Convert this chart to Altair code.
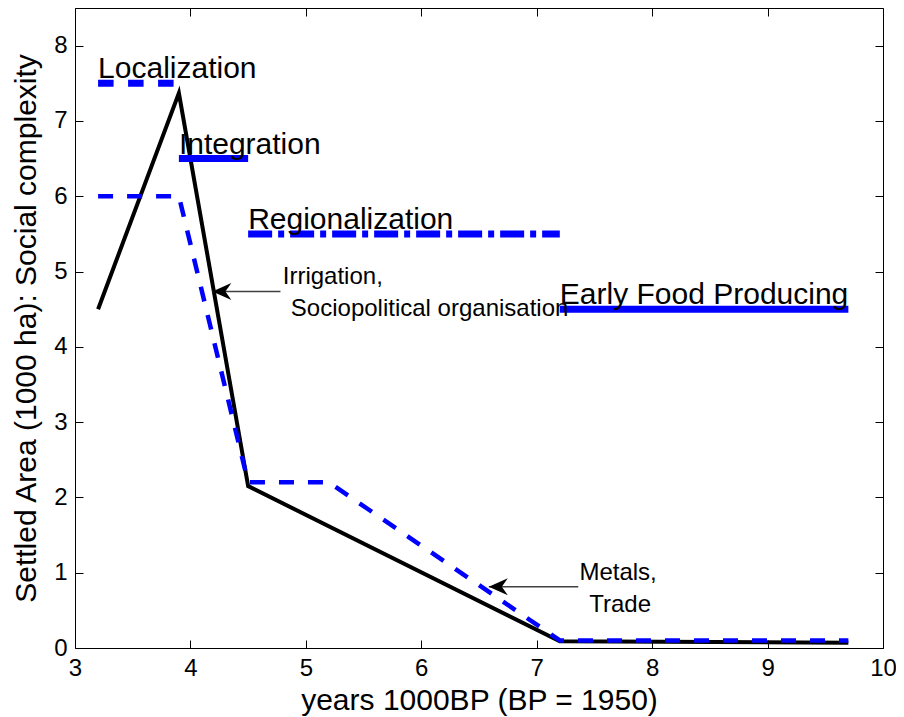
import altair as alt
import pandas as pd

# ---- data ----
years_black = [3.2, 3.9, 4.5, 7.2, 9.7]
area_black = [4.5, 7.37, 2.15, 0.09, 0.07]

years_blue = [3.2, 3.9, 4.5, 5.2, 7.2, 9.7]
complexity_blue = [6.0, 6.0, 2.2, 2.2, 0.1, 0.1]

phase_names = ["Localization", "Integration", "Regionalization", "Early Food Producing"]
phase_start = [3.2, 3.9, 4.5, 7.2]
phase_end = [3.9, 4.5, 7.2, 9.7]
phase_level = [7.5, 6.5, 5.5, 4.5]

note_text = ["Irrigation,", "Sociopolitical organisation", "Metals,", "Trade"]
note_x = [4.80, 4.87, 7.37, 7.455]
note_y = [4.83, 4.41, 0.90, 0.48]

arrow_tail_x = [4.78, 7.36]
arrow_head_x = [4.19, 6.585]
arrow_y = [4.735, 0.812]

x_ticks = [3, 4, 5, 6, 7, 8, 9, 10]
y_ticks = [0, 1, 2, 3, 4, 5, 6, 7, 8]

FONT = "Liberation Sans"
BLUE = "#0000ff"

black_df = pd.DataFrame({"x": years_black, "y": area_black})
blue_df = pd.DataFrame({"x": years_blue, "y": complexity_blue})
phase_df = pd.DataFrame({"phase": phase_names, "x": phase_start, "x2": phase_end, "y": phase_level})
note_df = pd.DataFrame({"text": note_text, "x": note_x, "y": note_y})
arrow_df = pd.DataFrame({"x": arrow_tail_x, "x2": arrow_head_x, "y": arrow_y})

xs = alt.Scale(domain=[3, 10], nice=False, zero=False)
ys = alt.Scale(domain=[0, 8.5], nice=False, zero=False)

main_x_axis = alt.Axis(
    values=x_ticks, orient="bottom", offset=-8, tickSize=8, tickColor="black",
    domain=False, grid=False, labelFontSize=24, labelColor="black", labelPadding=8,
    labelFlush=False, labelFont=FONT, title="years 1000BP (BP = 1950)",
    titleFontSize=30, titleFontWeight="normal", titleColor="black", titleFont=FONT,
    titlePadding=5,
)
main_y_axis = alt.Axis(
    values=y_ticks, orient="left", offset=-8, tickSize=8, tickColor="black",
    domain=False, grid=False, labelFontSize=24, labelColor="black", labelPadding=8,
    labelFlush=False, labelFont=FONT, title="Settled Area (1000 ha): Social complexity",
    titleFontSize=30, titleFontWeight="normal", titleColor="black", titleFont=FONT,
    titlePadding=12,
)
top_axis = alt.Axis(values=x_ticks, orient="top", offset=-8, tickSize=8, tickColor="black",
                    domain=False, grid=False, labels=False, title=None)
right_axis = alt.Axis(values=y_ticks, orient="right", offset=-8, tickSize=8, tickColor="black",
                      domain=False, grid=False, labels=False, title=None)

black_line = alt.Chart(black_df).mark_line(color="black", strokeWidth=4).encode(
    x=alt.X("x:Q", scale=xs, axis=main_x_axis),
    y=alt.Y("y:Q", scale=ys, axis=main_y_axis),
)

blue_line = alt.Chart(blue_df).mark_line(color=BLUE, strokeWidth=4.5, strokeDash=[15, 14]).encode(
    x=alt.X("x:Q", scale=xs, axis=top_axis),
    y=alt.Y("y:Q", scale=ys, axis=right_axis),
)

phase_lines = alt.Chart(phase_df).mark_rule(color=BLUE, strokeWidth=7).encode(
    x=alt.X("x:Q", scale=xs, axis=None),
    x2="x2:Q",
    y=alt.Y("y:Q", scale=ys, axis=None),
    strokeDash=alt.StrokeDash(
        "phase:N",
        scale=alt.Scale(domain=phase_names, range=[[15.5, 14.5], [1, 0], [24, 6, 6, 6], [1, 0]]),
        legend=None,
    ),
)

phase_text = alt.Chart(phase_df).mark_text(
    align="left", baseline="alphabetic", dy=-5, fontSize=30, font=FONT, color="black"
).encode(
    x=alt.X("x:Q", scale=xs, axis=None),
    y=alt.Y("y:Q", scale=ys, axis=None),
    text="phase:N",
)

arrow_lines = alt.Chart(arrow_df).mark_rule(color="#404040", strokeWidth=1.5).encode(
    x=alt.X("x:Q", scale=xs, axis=None),
    x2="x2:Q",
    y=alt.Y("y:Q", scale=ys, axis=None),
)

arrow_heads = alt.Chart(arrow_df).mark_point(
    shape="M0,0 L1.9,-0.85 L1.3,0 L1.9,0.85 Z", size=400, filled=True,
    color="black", opacity=1, strokeWidth=0,
).encode(
    x=alt.X("x2:Q", scale=xs, axis=None),
    y=alt.Y("y:Q", scale=ys, axis=None),
)

note_labels = alt.Chart(note_df).mark_text(
    align="left", baseline="alphabetic", fontSize=24, font=FONT, color="black"
).encode(
    x=alt.X("x:Q", scale=xs, axis=None),
    y=alt.Y("y:Q", scale=ys, axis=None),
    text="text:N",
)

chart = alt.layer(
    black_line, blue_line, phase_lines, arrow_lines, arrow_heads, phase_text, note_labels
).resolve_axis(
    x="independent", y="independent"
).properties(
    width=808, height=640,
    autosize=alt.AutoSizeParams(type="none"),
    padding={"left": 67, "top": 0, "right": 13, "bottom": 70},
    background="white",
).configure_view(
    stroke="black", strokeWidth=1
)

chart.save("out.html", embed_options={"renderer": "svg", "actions": False})
